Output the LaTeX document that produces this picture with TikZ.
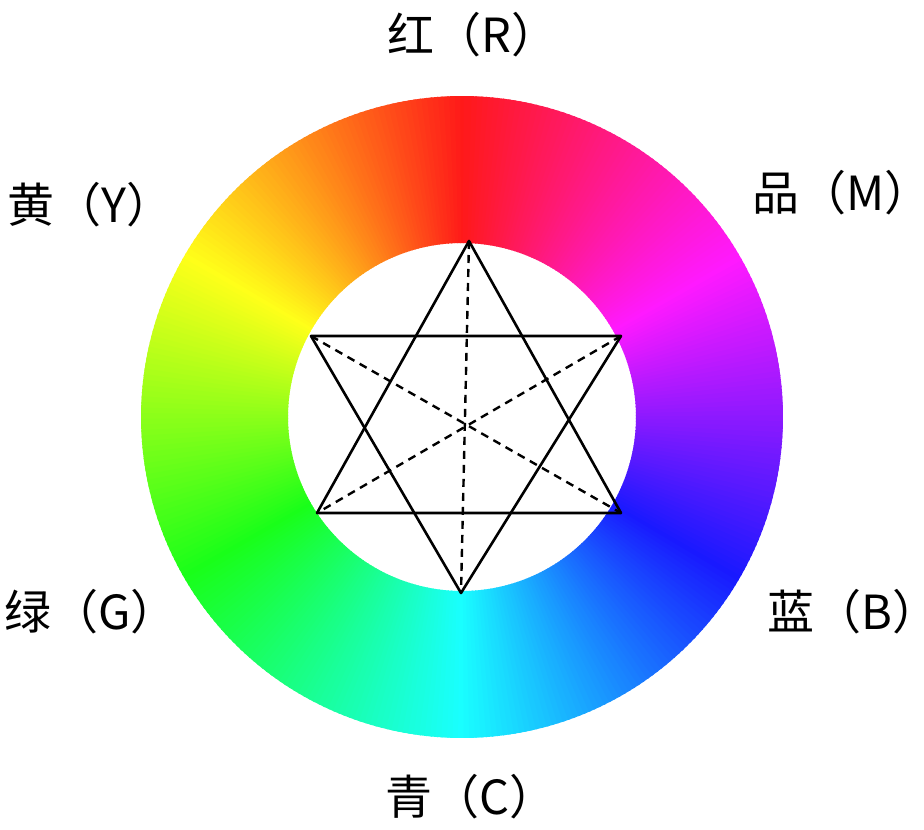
\documentclass[tikz,border=0pt]{standalone}
\usepackage{fontspec}
\newfontfamily\cjk{Noto Sans CJK SC}
\newfontfamily\cjkhalf[RawFeature=+halt]{Noto Sans CJK SC}
\newcommand{\rpar}{{\cjkhalf ）}}
\begin{document}
\begin{tikzpicture}[x=1pt,y=-1pt,
  lbl/.style={font=\cjk\fontsize{47}{47}\selectfont, inner sep=0pt, anchor=base west},
  solidline/.style={line width=2.6pt, black, line join=round},
  dashline/.style={line width=2.4pt, black, dash pattern=on 8pt off 6pt}]
\useasboundingbox[fill=white] (0,0) rectangle (924,830);
% colour ring
\begin{scope}[shift={(462,417)}]
\foreach \i in {0,...,359}{
  \pgfmathsetmacro\h{\i/360}
  \definecolor{hc}{hsb}{\h,0.9,1}
  \pgfmathsetmacro\a{-90-\i+0.7}
  \pgfmathsetmacro\b{-90-\i-0.7}
  \fill[hc] (\a:321) arc[start angle=\a, end angle=\b, radius=321]
     -- (\b:174) arc[start angle=\b, end angle=\a, radius=174] -- cycle;
}
\end{scope}
% star
\coordinate (T) at (469,241);
\coordinate (BL) at (317,513);
\coordinate (BR) at (621,513);
\coordinate (TL) at (311,336);
\coordinate (TR) at (621,336);
\coordinate (B) at (461,593);
\draw[solidline] (T) -- (BL) -- (BR) -- cycle;
\draw[solidline] (TL) -- (TR) -- (B) -- cycle;
\draw[dashline] (T) -- (B);
\draw[dashline] (TL) -- (BR);
\draw[dashline] (TR) -- (BL);
% labels
\node[lbl] (r) at (387,52) {红（R\rpar};
\node[lbl] (m) at (752,210) {品（M\rpar};
\node[lbl] (y) at (7,222) {黄（Y\rpar};
\node[lbl] (g) at (4,629) {绿（G\rpar};
\node[lbl] (bl) at (767,629) {蓝（B\rpar};
\node[lbl] (c) at (385,814) {青（C\rpar};
\end{tikzpicture}
\end{document}
